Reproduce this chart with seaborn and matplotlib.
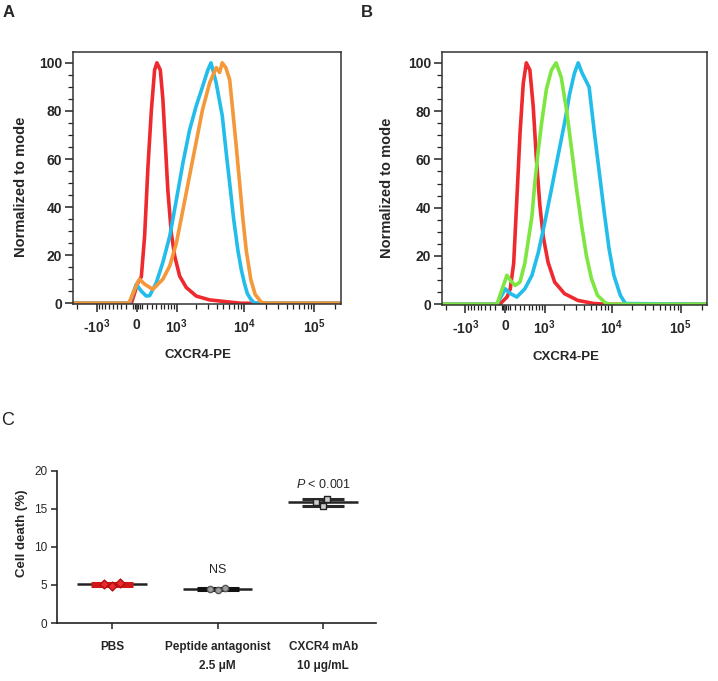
import matplotlib
matplotlib.use('Agg')
import numpy as np
import pandas as pd
import seaborn as sns
import matplotlib.pyplot as plt
from matplotlib.ticker import FixedLocator, NullFormatter

# ---- data ----
# panel A histograms (CXCR4-PE intensity, % of mode)
red_a_x = [-2300, -100, 25, 89, 153, 220, 289, 360, 413, 495, 560, 636, 700, 810, 925, 1115, 1415, 2005, 3150, 6130, 9000, 240000]
red_a_y = [0, 0, 8.6, 11, 28, 57, 80, 97, 100, 97, 85, 64, 47, 29, 19.6, 11.3, 6.6, 3, 1.4, 0.5, 0, 0]
blue_a_x = [-2300, -135, -6, 90, 187, 255, 400, 560, 760, 985, 1260, 1590, 2000, 2480, 2970, 3300, 3900, 4800,
            5500, 6130, 7000, 8050, 9000, 10050, 11000, 12300, 14000, 240000]
blue_a_y = [0, 0, 7.9, 5, 3.0, 3.2, 8.6, 17, 28, 43, 58.5, 72, 82, 90, 97, 100, 92, 78,
            62, 50, 35, 22, 14, 8, 4, 1.7, 0, 0]
orange_a_x = [-2300, -150, 25, 57, 150, 322, 560, 760, 985, 1260, 1590, 2000, 2480, 3150, 3930, 4400, 4790,
              5400, 6130, 6800, 7640, 8520, 9500, 10600, 12300, 14200, 17300, 20000, 240000]
orange_a_y = [0, 0, 9, 10, 8, 5.8, 10, 15.6, 25, 39, 53, 67, 80.5, 91.6, 98, 96, 100,
              98, 93, 80, 65, 50, 35, 22, 10, 3.7, 0.5, 0, 0]

# panel B histograms
red_b_x = [-2300, -100, 40, 103, 170, 233, 302, 373, 445, 535, 625, 720, 830, 950, 1140, 1450, 2050, 3230, 5560, 9000, 240000]
red_b_y = [0, 0, 3, 6.4, 17, 43, 71, 91.5, 100, 97, 82, 60, 41, 28, 17.4, 9.2, 4.4, 1.6, 0.3, 0, 0]
green_b_x = [-2300, -155, 38, 120, 200, 300, 410, 490, 590, 670, 780, 890, 1070, 1290, 1530, 1830, 2200,
             2620, 3100, 3680, 4320, 5110, 6250, 8200, 10000, 240000]
green_b_y = [0, 0, 12, 9.5, 7.8, 9.2, 17, 26, 36.6, 50, 64, 75, 89, 97, 100, 94, 80.5,
             64, 47.6, 32.5, 20, 10.6, 3.7, 0.5, 0, 0]
blue_b_x = [-2300, -155, 6, 100, 233, 410, 590, 780, 1010, 1290, 1620, 2050, 2440, 2870, 3270, 3700,
            4720, 5640, 6650, 7840, 9200, 10800, 13400, 15900, 240000]
blue_b_y = [0, 0, 6.4, 4.5, 3.0, 6.4, 12, 21.5, 34, 47.6, 61, 75, 87, 95.6, 100, 96,
            90, 71, 54.5, 38, 23, 12, 3.7, 0.3, 0]

major_x = [-1000, 0, 1000, 10000, 100000]
major_x_labels = [r'-$\mathbf{10^{3}}$', '0', r'$\mathbf{10^{3}}$', r'$\mathbf{10^{4}}$', r'$\mathbf{10^{5}}$']

# panel C cell death
groups = ['PBS', 'Peptide antagonist\n2.5 μM', 'CXCR4 mAb\n10 μg/mL']
pbs = [4.9, 5.1, 5.2]
peptide = [4.3, 4.45, 4.6]
mab = [15.4, 15.85, 16.3]

RED = '#EE2A2F'
BLUE = '#22BDEA'
ORANGE = '#F4983A'
GREEN = '#7DE640'

sns.set_theme(style='ticks')
plt.rcParams['font.family'] = ['Liberation Sans', 'DejaVu Sans']
plt.rcParams['mathtext.fontset'] = 'custom'
plt.rcParams['mathtext.rm'] = 'Liberation Sans'
plt.rcParams['mathtext.bf'] = 'Liberation Sans:bold'
plt.rcParams['mathtext.it'] = 'Liberation Sans:italic'

W = 575.0


def fwd(x):
    return np.arcsinh(np.asarray(x, dtype=float) / W)


def inv(u):
    return W * np.sinh(np.asarray(u, dtype=float))


minor_x = ([-2000] + [-100 * k for k in range(2, 10)] + [-60, -30, 30, 60]
           + [100 * k for k in range(1, 10)] + [1000 * k for k in range(2, 10)]
           + [10000 * k for k in range(2, 10)] + [200000])

fig = plt.figure(figsize=(7.18, 6.81), dpi=100)


def histo_panel(rect, curves, ylab_x, xlab_x):
    ax = fig.add_axes(rect)
    for xs, ys, c in curves:
        sns.lineplot(x=xs, y=ys, ax=ax, color=c, lw=2.6, estimator=None, sort=False)
    ax.set_xscale('function', functions=(fwd, inv))
    ax.set_xlim(-2300, 240000)
    ax.set_ylim(-0.3, 104.5)
    ax.xaxis.set_major_locator(FixedLocator(major_x))
    ax.set_xticklabels(major_x_labels, fontweight='bold')
    ax.xaxis.set_minor_locator(FixedLocator(minor_x))
    ax.xaxis.set_minor_formatter(NullFormatter())
    ax.set_yticks(range(0, 101, 20))
    ax.set_yticklabels([str(v) for v in range(0, 101, 20)], fontweight='bold')
    ax.yaxis.set_minor_locator(FixedLocator(range(0, 101, 5)))
    ax.tick_params(which='major', length=6, width=1.1, labelsize=10, color='#222', pad=2)
    ax.tick_params(which='minor', length=3.5, width=0.9, color='#222')
    ax.tick_params(axis='x', which='major', pad=4)
    for sp in ax.spines.values():
        sp.set_color('#333')
        sp.set_linewidth(1.1)
    ax.set_xlabel('CXCR4-PE', fontsize=9.5, fontweight='bold')
    ax.set_ylabel('Normalized to mode', fontsize=10.5, fontweight='bold')
    ax.xaxis.set_label_coords(xlab_x, -0.18)
    ax.yaxis.set_label_coords(ylab_x, 0.465)
    return ax


histo_panel([73 / 718, 1 - 304 / 681, 268 / 718, 252 / 681],
            [(red_a_x, red_a_y, RED), (blue_a_x, blue_a_y, BLUE), (orange_a_x, orange_a_y, ORANGE)],
            -0.168, 0.466)
histo_panel([442 / 718, 1 - 305 / 681, 265 / 718, 253 / 681],
            [(red_b_x, red_b_y, RED), (blue_b_x, blue_b_y, BLUE), (green_b_x, green_b_y, GREEN)],
            -0.181, 0.468)

# ---- panel C ----
axc = fig.add_axes([57 / 718, 1 - 623 / 681, 319 / 718, 152.5 / 681])
df = pd.DataFrame({
    'group': [groups[0]] * len(pbs) + [groups[1]] * len(peptide) + [groups[2]] * len(mab),
    'value': pbs + peptide + mab,
})
styles = [
    dict(marker='D', color=RED, edgecolor='#B01010', bar='#D01818'),
    dict(marker='o', color='#A0A0A0', edgecolor='#555555', bar='#111111'),
    dict(marker='s', color='#CCCCCC', edgecolor='#222222', bar='#2A2A2A'),
]
for i, (g, st) in enumerate(zip(groups, styles)):
    vals = df.loc[df['group'] == g, 'value']
    m, sd = vals.mean(), vals.std()
    axc.hlines(m, i - 0.33, i + 0.33, color='#222222', lw=1.8, zorder=2)
    axc.errorbar(i, m, yerr=sd, color=st['bar'], capsize=15, capthick=2.2, elinewidth=2.2, zorder=3)
    sns.swarmplot(data=df[df['group'] == g], x='group', y='value', order=groups, ax=axc,
                  marker=st['marker'], color=st['color'], edgecolor=st['edgecolor'],
                  linewidth=1, size=4.5, zorder=4)

axc.set_xlim(-0.52, 2.5)
axc.set_ylim(0, 20)
axc.set_yticks([0, 5, 10, 15, 20])
axc.set_yticklabels(['0', '5', '10', '15', '20'], fontsize=8.5)
axc.set_xticks(range(3))
axc.set_xticklabels(groups, fontsize=8.5, fontweight='bold', linespacing=1.75)
axc.set_xlabel('')
axc.set_ylabel('Cell death (%)', fontsize=9.5, fontweight='bold')
axc.yaxis.set_label_coords(-0.091, 0.59)
axc.tick_params(length=4, width=1.1, color='#222', pad=3)
axc.tick_params(axis='x', pad=9)
sns.despine(ax=axc)
for sp in ('left', 'bottom'):
    axc.spines[sp].set_color('#222')
    axc.spines[sp].set_linewidth(1.2)

axc.text(1, 6.9, 'NS', ha='center', va='center', fontsize=9)
axc.text(2, 18.2, r'$\mathit{P}$ < 0.001', ha='center', va='center', fontsize=9)

# panel letters
fig.text(0.003, 0.992, 'A', fontsize=12, fontweight='bold', va='top')
fig.text(0.503, 0.992, 'B', fontsize=12, fontweight='bold', va='top')
fig.text(0.002, 0.395, 'C', fontsize=13, va='top')

fig.savefig('out.png', dpi=100)
